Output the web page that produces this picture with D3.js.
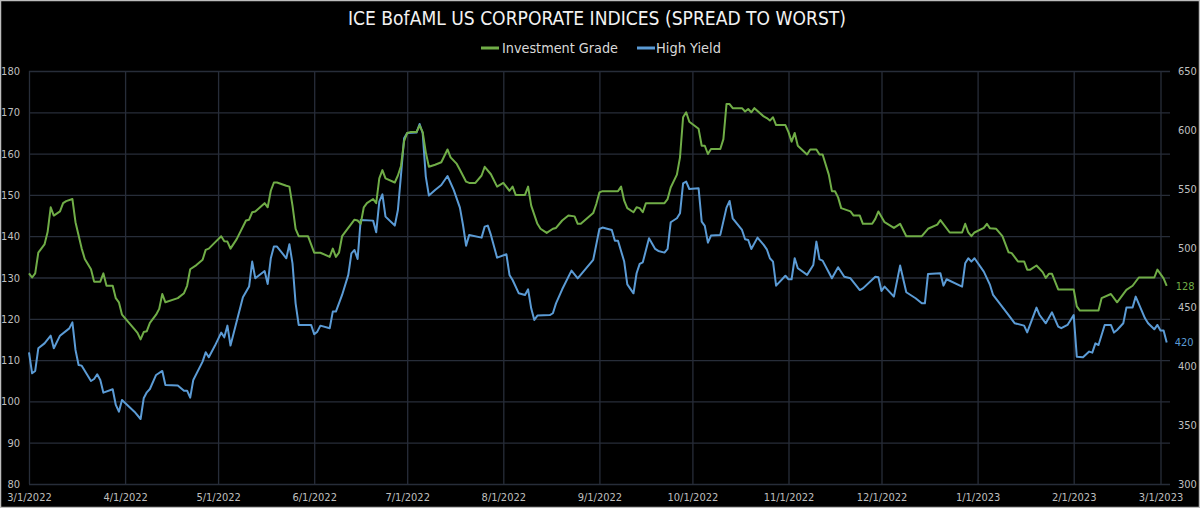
<!DOCTYPE html>
<html><head><meta charset="utf-8">
<script src="https://cdn.jsdelivr.net/npm/d3@7"></script>
<style>
html,body{margin:0;padding:0;background:#000;}
svg{display:block;}
text{font-family:"Liberation Sans Narrow","DejaVu Sans Condensed","Roboto","Liberation Sans",sans-serif;}
</style></head>
<body><div id="chart"></div>
<script>
const title = "ICE BofAML US CORPORATE INDICES (SPREAD TO WORST)";
const seriesNames = ["Investment Grade", "High Yield"];
const leftTicks = [80, 90, 100, 110, 120, 130, 140, 150, 160, 170, 180];
const rightTicks = [300, 350, 400, 450, 500, 550, 600, 650];
const xTickLabels = ["3/1/2022","4/1/2022","5/1/2022","6/1/2022","7/1/2022","8/1/2022","9/1/2022","10/1/2022","11/1/2022","12/1/2022","1/1/2023","2/1/2023","3/1/2023"];

const igDates = ["3/1/2022","3/2/2022","3/3/2022","3/4/2022","3/6/2022","3/7/2022","3/8/2022","3/9/2022","3/11/2022","3/12/2022","3/13/2022","3/15/2022","3/16/2022","3/18/2022","3/19/2022","3/21/2022","3/22/2022","3/24/2022","3/25/2022","3/26/2022","3/28/2022","3/29/2022","3/30/2022","3/31/2022","4/4/2022","4/5/2022","4/6/2022","4/7/2022","4/8/2022","4/9/2022","4/11/2022","4/12/2022","4/13/2022","4/14/2022","4/18/2022","4/20/2022","4/21/2022","4/22/2022","4/24/2022","4/26/2022","4/27/2022","4/28/2022","4/30/2022","5/2/2022","5/3/2022","5/4/2022","5/5/2022","5/7/2022","5/10/2022","5/11/2022","5/12/2022","5/13/2022","5/16/2022","5/17/2022","5/18/2022","5/19/2022","5/20/2022","5/23/2022","5/24/2022","5/25/2022","5/26/2022","5/27/2022","5/30/2022","6/1/2022","6/3/2022","6/6/2022","6/7/2022","6/8/2022","6/9/2022","6/10/2022","6/14/2022","6/15/2022","6/16/2022","6/17/2022","6/18/2022","6/20/2022","6/21/2022","6/22/2022","6/23/2022","6/24/2022","6/27/2022","6/28/2022","6/29/2022","6/30/2022","7/1/2022","7/2/2022","7/4/2022","7/5/2022","7/6/2022","7/7/2022","7/8/2022","7/10/2022","7/12/2022","7/14/2022","7/15/2022","7/17/2022","7/18/2022","7/20/2022","7/21/2022","7/23/2022","7/25/2022","7/26/2022","7/28/2022","7/30/2022","8/1/2022","8/3/2022","8/4/2022","8/5/2022","8/8/2022","8/9/2022","8/10/2022","8/12/2022","8/13/2022","8/15/2022","8/17/2022","8/18/2022","8/20/2022","8/22/2022","8/24/2022","8/25/2022","8/26/2022","8/30/2022","8/31/2022","9/1/2022","9/2/2022","9/7/2022","9/8/2022","9/9/2022","9/10/2022","9/12/2022","9/13/2022","9/14/2022","9/15/2022","9/16/2022","9/22/2022","9/23/2022","9/24/2022","9/26/2022","9/27/2022","9/28/2022","9/29/2022","9/30/2022","10/3/2022","10/4/2022","10/5/2022","10/6/2022","10/7/2022","10/10/2022","10/11/2022","10/12/2022","10/13/2022","10/14/2022","10/17/2022","10/18/2022","10/19/2022","10/20/2022","10/21/2022","10/24/2022","10/25/2022","10/26/2022","10/27/2022","10/28/2022","10/31/2022","11/1/2022","11/2/2022","11/3/2022","11/4/2022","11/7/2022","11/8/2022","11/10/2022","11/11/2022","11/12/2022","11/14/2022","11/15/2022","11/16/2022","11/17/2022","11/18/2022","11/21/2022","11/22/2022","11/24/2022","11/25/2022","11/28/2022","11/29/2022","11/30/2022","12/2/2022","12/5/2022","12/7/2022","12/9/2022","12/14/2022","12/16/2022","12/19/2022","12/20/2022","12/23/2022","12/27/2022","12/28/2022","12/29/2022","12/30/2022","12/31/2022","1/3/2023","1/4/2023","1/5/2023","1/7/2023","1/9/2023","1/11/2023","1/12/2023","1/14/2023","1/16/2023","1/17/2023","1/18/2023","1/20/2023","1/22/2023","1/23/2023","1/24/2023","1/25/2023","1/27/2023","2/1/2023","2/2/2023","2/3/2023","2/9/2023","2/10/2023","2/13/2023","2/15/2023","2/18/2023","2/20/2023","2/22/2023","2/27/2023","2/28/2023","3/2/2023","3/3/2023"];
const igValues = [131,130,131,136,138,141,147,145,146,148,148.5,149,143.4,137,134.5,132,129,129,131,128,128,125,124,121,117.5,116.6,115,116.8,117,119,121,122.4,126,124,125,126.2,128,132,133,134.3,136.7,137,138.5,140,138.8,138.7,137,139.3,143.8,144,145.8,146,148,147,151,153,153,152.2,152,147.4,141.8,140,140,136,136,135,137,135,136,140,144,143.8,143,147,148,149,148,154,156,154,153,154.7,157,163,165,165.2,165.2,166.8,165.2,160.3,156.8,157.3,157.9,161,159.1,157.5,156.1,153.2,152.9,152.9,154.7,156.8,155,152,152.9,151,152,150,150,152,147.4,143,141.8,140.8,141.8,142,143.8,145,144.8,143,143,145.6,147.8,150.6,150.9,150.9,152,148.6,146.8,145.8,147,146.8,145.8,148,148,149,151.8,154.9,159.1,168.8,170,167.7,166,161.9,161.9,159.9,161.1,161.1,163.5,172,172,171,171,170.2,170.8,170,171,169,168.6,168,168.8,166.9,166.9,165.2,162.9,165,161.9,159.8,161,161,159.8,159.8,154.9,150.9,150.9,149.4,146.8,146,145,145,143,143,144.2,146,143.4,142,143,140,140,141.8,142.8,143.9,140.9,140.9,143,140.9,140,140.9,142,143,141.9,141.8,140,136.1,135.9,133.9,133.9,131.9,131.9,132.9,131.3,129.9,130.9,130.9,127.1,127.1,123,122,122,125,126,124,127,128,130,130,131.9,129.8,128];

const hyDates = ["3/1/2022","3/2/2022","3/3/2022","3/4/2022","3/6/2022","3/8/2022","3/9/2022","3/11/2022","3/14/2022","3/15/2022","3/16/2022","3/17/2022","3/18/2022","3/21/2022","3/22/2022","3/23/2022","3/24/2022","3/25/2022","3/28/2022","3/29/2022","3/30/2022","3/31/2022","4/4/2022","4/6/2022","4/7/2022","4/8/2022","4/9/2022","4/11/2022","4/13/2022","4/14/2022","4/18/2022","4/20/2022","4/21/2022","4/22/2022","4/23/2022","4/26/2022","4/27/2022","4/28/2022","4/30/2022","5/2/2022","5/3/2022","5/4/2022","5/5/2022","5/9/2022","5/11/2022","5/12/2022","5/13/2022","5/16/2022","5/17/2022","5/18/2022","5/19/2022","5/20/2022","5/23/2022","5/24/2022","5/25/2022","5/26/2022","5/27/2022","5/31/2022","6/1/2022","6/2/2022","6/3/2022","6/6/2022","6/7/2022","6/8/2022","6/10/2022","6/12/2022","6/13/2022","6/14/2022","6/15/2022","6/16/2022","6/20/2022","6/21/2022","6/22/2022","6/23/2022","6/24/2022","6/27/2022","6/28/2022","6/29/2022","6/30/2022","7/1/2022","7/4/2022","7/5/2022","7/6/2022","7/7/2022","7/8/2022","7/10/2022","7/12/2022","7/14/2022","7/16/2022","7/18/2022","7/19/2022","7/20/2022","7/21/2022","7/25/2022","7/26/2022","7/27/2022","7/28/2022","7/30/2022","8/2/2022","8/3/2022","8/4/2022","8/6/2022","8/8/2022","8/9/2022","8/10/2022","8/11/2022","8/12/2022","8/16/2022","8/17/2022","8/18/2022","8/20/2022","8/23/2022","8/25/2022","8/30/2022","9/1/2022","9/2/2022","9/5/2022","9/6/2022","9/7/2022","9/9/2022","9/10/2022","9/12/2022","9/13/2022","9/14/2022","9/15/2022","9/17/2022","9/19/2022","9/20/2022","9/22/2022","9/23/2022","9/24/2022","9/26/2022","9/27/2022","9/28/2022","9/29/2022","9/30/2022","10/3/2022","10/4/2022","10/5/2022","10/6/2022","10/7/2022","10/10/2022","10/12/2022","10/13/2022","10/14/2022","10/17/2022","10/18/2022","10/19/2022","10/20/2022","10/22/2022","10/24/2022","10/25/2022","10/26/2022","10/27/2022","10/28/2022","10/31/2022","11/1/2022","11/2/2022","11/3/2022","11/4/2022","11/7/2022","11/9/2022","11/10/2022","11/11/2022","11/12/2022","11/15/2022","11/17/2022","11/19/2022","11/21/2022","11/24/2022","11/25/2022","11/29/2022","11/30/2022","12/1/2022","12/2/2022","12/5/2022","12/7/2022","12/9/2022","12/12/2022","12/14/2022","12/15/2022","12/16/2022","12/20/2022","12/21/2022","12/22/2022","12/27/2022","12/28/2022","12/29/2022","12/30/2022","12/31/2022","1/3/2023","1/5/2023","1/6/2023","1/11/2023","1/13/2023","1/16/2023","1/17/2023","1/20/2023","1/21/2023","1/23/2023","1/25/2023","1/27/2023","1/28/2023","1/30/2023","2/1/2023","2/2/2023","2/4/2023","2/6/2023","2/7/2023","2/8/2023","2/9/2023","2/11/2023","2/13/2023","2/14/2023","2/15/2023","2/17/2023","2/18/2023","2/20/2023","2/21/2023","2/24/2023","2/25/2023","2/27/2023","2/28/2023","3/1/2023","3/2/2023","3/3/2023"];
const hyValues = [411.6,393.8,395.8,415,419.2,425.7,415,425.7,431.9,437,413.6,400.9,400.3,387.3,389,393,388.2,377.4,380.3,367,361.3,371.2,361.3,355.1,372.6,377.7,380.5,392.4,395.8,383.9,383.4,379.1,379.1,373.2,388.2,403.7,411.6,407.4,417.3,428.3,424.3,434.2,417.3,458.2,467.3,488.5,474.3,480.5,469.5,491.3,501.2,501.2,491.3,503.1,487,453.1,434.8,434.8,426.9,429.1,434.2,432,446.1,446.1,460.2,477.2,495.5,498.3,490.7,523.8,523.2,513.3,539.3,545.5,526.6,519,532.2,561.9,593,597.5,597.8,605.1,597.2,560.5,544.4,549.2,553.4,561,549.2,534.2,519.5,502,511.1,508.8,518.1,519,511.1,491.8,494.7,477.2,472.9,461.6,460.2,465,448.9,439,442.7,443.2,444.7,453.1,465,480.8,474.3,489.9,516.1,517.3,515.3,506.2,506.2,488.5,469.2,461.6,478.6,486.5,487.9,508.2,499.2,497.5,496.1,499.2,521.8,525.2,529.4,554.8,556.3,550,550.6,522.4,518.7,504.5,510.5,511.1,534.2,539.9,525.2,515.3,507.4,506.8,499.2,508.8,502.6,498.9,491.3,488.5,468.1,476.5,473.5,473.5,491.3,482.8,477.2,485.6,505.4,490.4,489.3,474.3,483.7,475.7,474.3,464.4,465.8,475.7,475.2,463.6,467.3,458.8,485.1,462.5,457.4,453.1,453.1,478,478.6,468.1,473.5,467.3,487,491.3,488.5,491.3,480,468.7,460.2,443.2,436.2,434.2,428.5,449.5,443.2,436.2,445.5,433.4,432,434.8,443.2,407.9,407.4,412.2,411.3,419.2,417.8,434.8,434.8,428.3,430.5,436.2,449.5,449.5,458.8,440.4,436.2,431.1,434.8,430,430,420];

const W = 1200, H = 508;
const parse = s => { const p = s.split("/").map(Number); return new Date(p[2], p[0] - 1, p[1]); };
const ig = igDates.map((d, i) => ({ date: parse(d), value: igValues[i] }));
const hy = hyDates.map((d, i) => ({ date: parse(d), value: hyValues[i] }));

const pLeft = 29, pRight = 1170, pTop = 71, pBottom = 484;
const x = d3.scaleTime().domain([parse("3/1/2022"), parse("3/3/2023")]).range([pLeft, 1166.7]);
const yL = d3.scaleLinear().domain([80, 180]).range([pBottom, pTop]);
const yR = d3.scaleLinear().domain([300, 650]).range([pBottom, pTop]);

const svg = d3.select("#chart").append("svg").attr("width", W).attr("height", H);
svg.append("rect").attr("x", 0.5).attr("y", 0.5).attr("width", W - 1).attr("height", H - 1)
  .attr("fill", "#000").attr("stroke", "#bdbdbd").attr("stroke-width", 1.5);

const gridColor = "#272d39";
const labelColor = "#bfbfbf";

const gH = svg.append("g").attr("transform", `translate(${pLeft},0)`)
  .call(d3.axisLeft(yL).tickValues(leftTicks).tickSize(-(pRight - pLeft)).tickFormat(""));
gH.select(".domain").remove();
gH.selectAll("line").attr("stroke", gridColor).attr("stroke-width", 1.3);

const xTicks = xTickLabels.map(parse);
const gV = svg.append("g").attr("transform", `translate(0,${pBottom})`)
  .call(d3.axisBottom(x).tickValues(xTicks).tickSize(-(pBottom - pTop)).tickFormat(""));
gV.select(".domain").remove();
gV.selectAll("line").attr("stroke", gridColor).attr("stroke-width", 1.3);

const aL = svg.append("g").attr("transform", `translate(${pLeft},0)`)
  .call(d3.axisLeft(yL).tickValues(leftTicks).tickSize(0).tickPadding(9));
aL.select(".domain").remove();
aL.selectAll("text").attr("fill", labelColor).attr("font-size", 11).attr("font-family", null);

const aR = svg.append("g").attr("transform", `translate(${pRight},0)`)
  .call(d3.axisRight(yR).tickValues(rightTicks).tickSize(0).tickPadding(8));
aR.select(".domain").remove();
aR.selectAll("text").attr("fill", labelColor).attr("font-size", 11).attr("font-family", null);

const aX = svg.append("g").attr("transform", `translate(0,${pBottom})`)
  .call(d3.axisBottom(x).tickValues(xTicks).tickSize(0).tickPadding(9).tickFormat((d, i) => xTickLabels[i]));
aX.select(".domain").remove();
aX.selectAll("text").attr("fill", labelColor).attr("font-size", 11).attr("font-family", null);

const green = "#70ad47", blue = "#5b9bd5";
const lineL = d3.line().x(d => x(d.date)).y(d => yL(d.value));
const lineR = d3.line().x(d => x(d.date)).y(d => yR(d.value));

svg.append("path").datum(hy).attr("d", lineR).attr("fill", "none").attr("stroke", blue)
  .attr("stroke-width", 2).attr("stroke-linejoin", "round");
svg.append("path").datum(ig).attr("d", lineL).attr("fill", "none").attr("stroke", green)
  .attr("stroke-width", 2).attr("stroke-linejoin", "round");

const lastIg = ig[ig.length - 1], lastHy = hy[hy.length - 1];
svg.append("text").attr("x", x(lastIg.date) + 9).attr("y", yL(lastIg.value)).attr("dy", "0.35em")
  .attr("fill", green).attr("font-size", 11).text(d3.format("d")(lastIg.value));
svg.append("text").attr("x", x(lastHy.date) + 8).attr("y", yR(lastHy.value)).attr("dy", "0.35em")
  .attr("fill", blue).attr("font-size", 11).text(d3.format("d")(lastHy.value));

svg.append("text").attr("x", 597).attr("y", 25).attr("text-anchor", "middle")
  .attr("fill", "#f2f2f2").attr("font-size", 19)
  .attr("textLength", 498).attr("lengthAdjust", "spacingAndGlyphs").text(title);

const legend = [
  { name: seriesNames[0], color: green, x0: 481, tx: 502, tw: 116 },
  { name: seriesNames[1], color: blue, x0: 637, tx: 656, tw: 65 }
];
legend.forEach(l => {
  svg.append("line").attr("x1", l.x0).attr("x2", l.x0 + 18).attr("y1", 48).attr("y2", 48)
    .attr("stroke", l.color).attr("stroke-width", 3);
  svg.append("text").attr("x", l.tx).attr("y", 48).attr("dy", "0.35em")
    .attr("fill", "#d9d9d9").attr("font-size", 14)
    .attr("textLength", l.tw).attr("lengthAdjust", "spacingAndGlyphs").text(l.name);
});
</script></body></html>
